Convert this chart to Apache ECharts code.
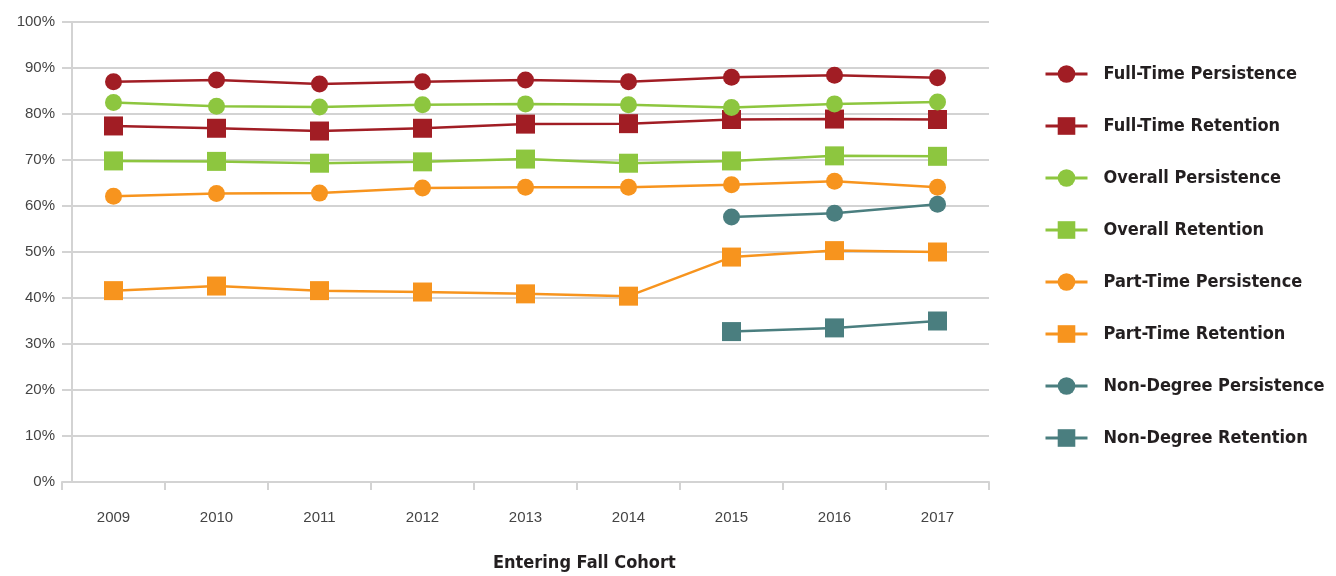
<!DOCTYPE html>
<html>
<head>
<meta charset="utf-8">
<script src="https://cdn.jsdelivr.net/npm/echarts@6/dist/echarts.min.js"></script>
<style>
    html, body { margin: 0; padding: 0; background: #fff; }
    #chart { width: 1336px; height: 576px; }
</style>
</head>
<body>
<div id="chart"></div>
<script>
// cohort years
const years = ['2009', '2010', '2011', '2012', '2013', '2014', '2015', '2016', '2017']

// values (percent)
const fullTimePersistence = [87.0, 87.4, 86.5, 87.0, 87.4, 87.0, 88.0, 88.4, 87.9]
const fullTimeRetention = [77.4, 76.9, 76.3, 76.9, 77.8, 77.9, 78.8, 78.9, 78.8]
const overallPersistence = [82.5, 81.7, 81.5, 82.0, 82.2, 82.0, 81.4, 82.2, 82.6]
const overallRetention = [69.8, 69.7, 69.3, 69.6, 70.2, 69.3, 69.8, 70.9, 70.8]
const partTimePersistence = [62.1, 62.7, 62.8, 63.9, 64.1, 64.1, 64.6, 65.4, 64.1]
const partTimeRetention = [41.6, 42.6, 41.6, 41.3, 40.9, 40.4, 48.9, 50.3, 50.0]
const nonDegreePersistence = [null, null, null, null, null, null, 57.6, 58.4, 60.4]
const nonDegreeRetention = [null, null, null, null, null, null, 32.7, 33.5, 35.0]

const red = '#a11d24'
const green = '#8dc63f'
const orange = '#f7941e'
const teal = '#4a7e7f'

const boldFont = '"Liberation Sans Narrow", "DejaVu Sans Condensed", Roboto, sans-serif'

function line(name, data, color, symbol) {
    return {
        name: name,
        type: 'line',
        data: data,
        symbol: symbol,
        symbolSize: symbol === 'circle' ? 17 : 19,
        showSymbol: true,
        lineStyle: { color: color, width: 2.5 },
        itemStyle: { color: color, borderWidth: 0 },
        emphasis: { disabled: true }
    }
}

const chart = echarts.init(document.getElementById('chart'))

const option = {
    animation: false,
    grid: {
        left: 62,
        right: 347,
        top: 22,
        bottom: 94
    },
    legend: {
        orient: 'vertical',
        left: 1039,
        top: 60,
        itemWidth: 42,
        itemHeight: 22,
        itemGap: 34,
        lineStyle: { width: 3 },
        textStyle: {
            fontFamily: boldFont,
            fontWeight: 'bold',
            fontSize: 18,
            color: '#231f20',
            padding: [0, 0, 0, 11]
        },
        data: ['Full-Time Persistence', 'Full-Time Retention', 'Overall Persistence', 'Overall Retention',
            'Part-Time Persistence', 'Part-Time Retention', 'Non-Degree Persistence', 'Non-Degree Retention']
    },
    xAxis: {
        type: 'category',
        data: years,
        boundaryGap: true,
        axisLine: { lineStyle: { color: '#d3d3d3', width: 2 } },
        axisTick: { show: true, length: 8, lineStyle: { color: '#d3d3d3', width: 2 } },
        axisLabel: {
            margin: 28,
            fontFamily: 'Liberation Sans',
            fontSize: 15,
            color: '#444'
        }
    },
    yAxis: {
        type: 'value',
        min: 0,
        max: 100,
        interval: 10,
        offset: -10,
        axisLine: { show: true, lineStyle: { color: '#d3d3d3', width: 2 } },
        axisTick: { show: false },
        splitLine: { lineStyle: { color: '#d3d3d3', width: 2 } },
        axisLabel: {
            margin: 17,
            formatter: '{value}%',
            fontFamily: 'Liberation Sans',
            fontSize: 15,
            color: '#444'
        }
    },
    graphic: [{
        type: 'text',
        left: 493,
        top: 554,
        style: {
            text: 'Entering Fall Cohort',
            fontFamily: boldFont,
            fontWeight: 'bold',
            fontSize: 18,
            fill: '#231f20'
        }
    }],
    series: [
        line('Full-Time Persistence', fullTimePersistence, red, 'circle'),
        line('Full-Time Retention', fullTimeRetention, red, 'rect'),
        line('Overall Persistence', overallPersistence, green, 'circle'),
        line('Overall Retention', overallRetention, green, 'rect'),
        line('Part-Time Persistence', partTimePersistence, orange, 'circle'),
        line('Part-Time Retention', partTimeRetention, orange, 'rect'),
        line('Non-Degree Persistence', nonDegreePersistence, teal, 'circle'),
        line('Non-Degree Retention', nonDegreeRetention, teal, 'rect')
    ]
}

chart.setOption(option)
</script>
</body>
</html>
